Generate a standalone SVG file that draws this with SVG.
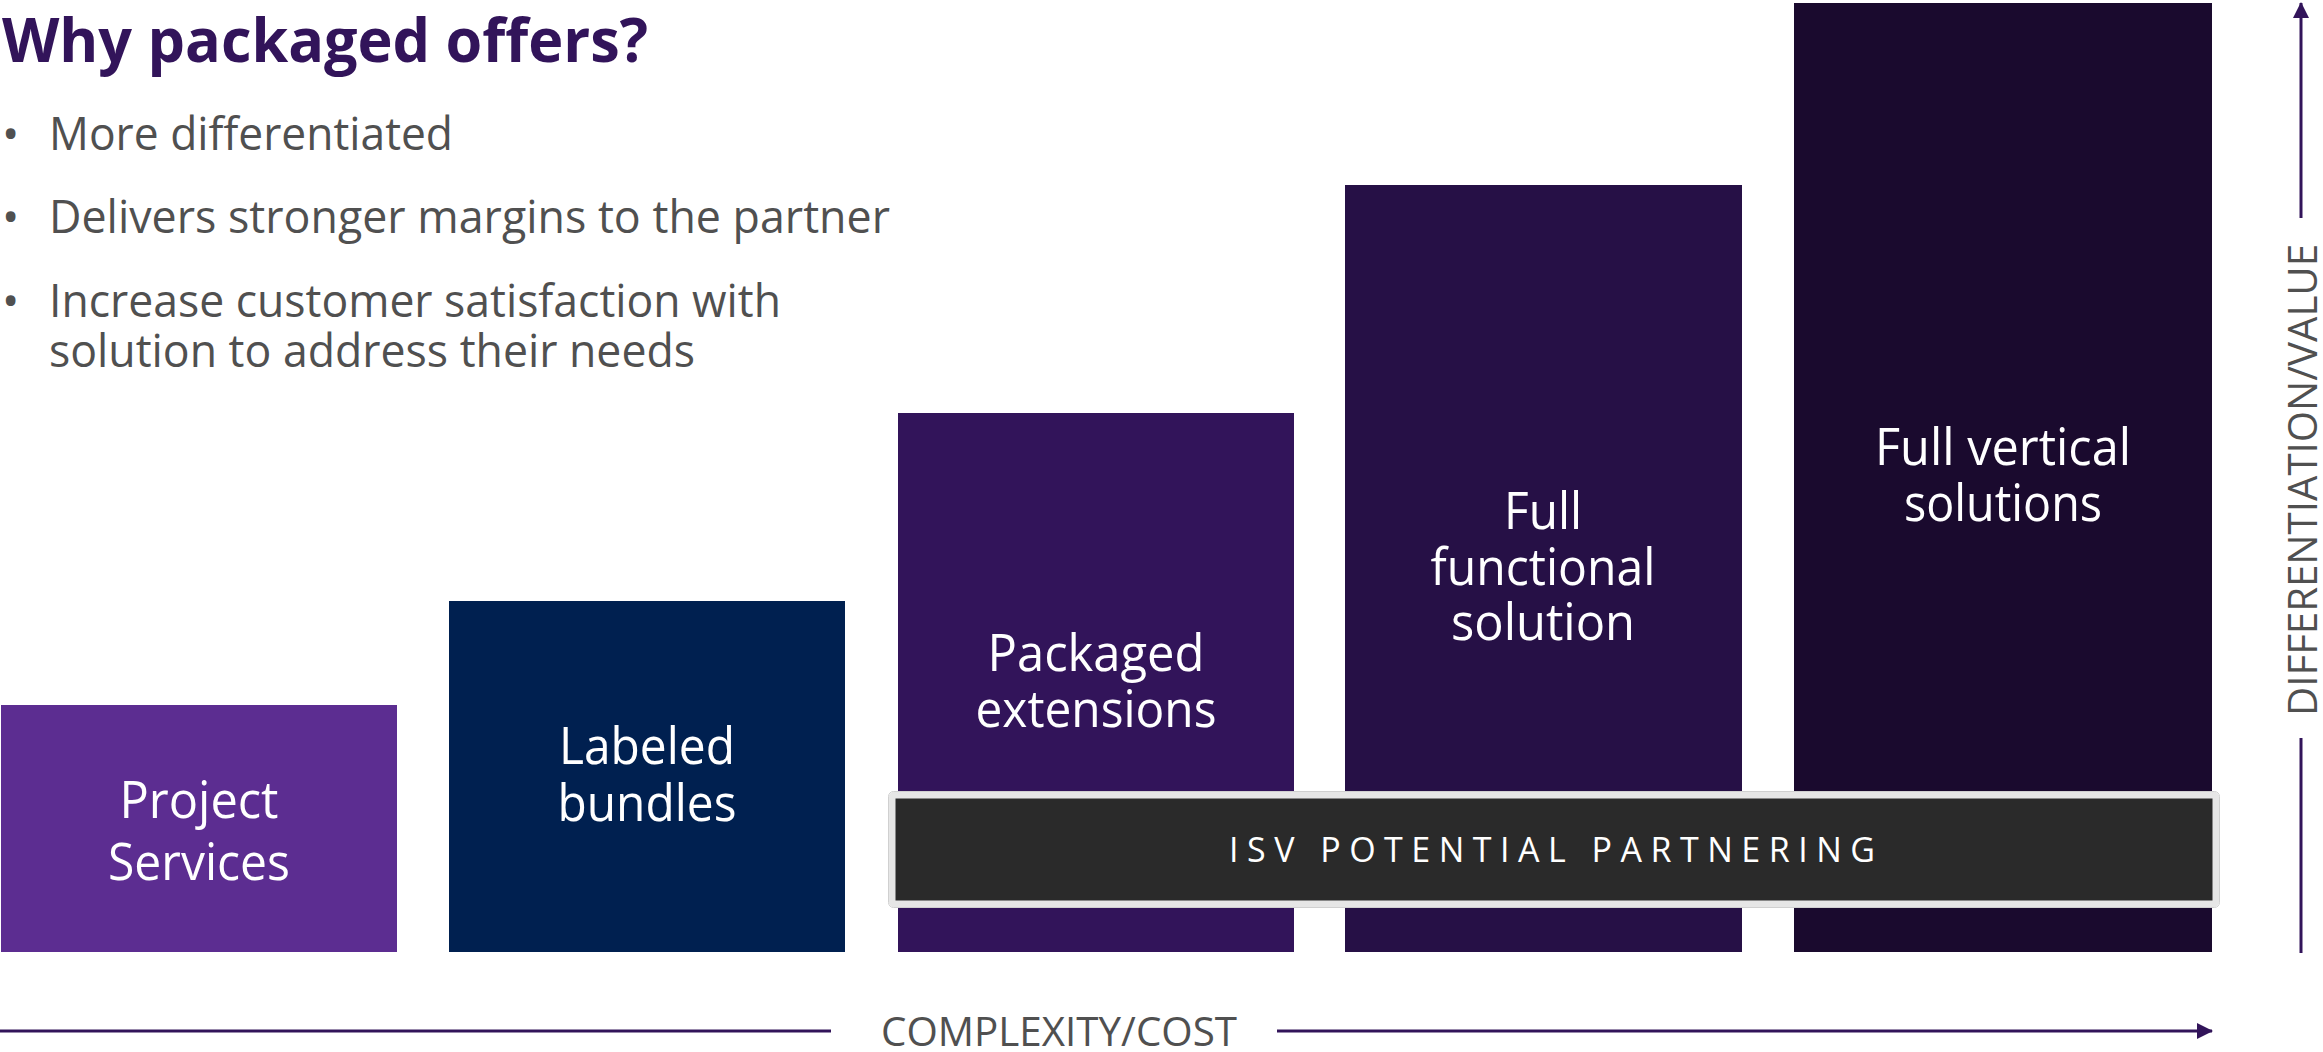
<svg xmlns="http://www.w3.org/2000/svg" width="2323" height="1052" viewBox="0 0 2323 1052">
<style>
.title{font-family:"Open Sans","Noto Sans",sans-serif;font-weight:700;font-size:60px;fill:#32145A}
.bul{font-family:"Open Sans","Noto Sans",sans-serif;font-size:46px;fill:#505050}
.lbl{font-family:"Open Sans","Noto Sans",sans-serif;font-size:52px;fill:#FFFFFF;text-anchor:middle}
.isv{font-family:"Open Sans","Noto Sans",sans-serif;font-size:34px;fill:#FFFFFF}
.axt{font-family:"Open Sans","Noto Sans",sans-serif;font-size:40px;fill:#505050}
.ax{stroke:#32145A;stroke-width:3;fill:none}
</style>
<defs>
<marker id="arr" viewBox="0 0 16 16" refX="15" refY="8" markerWidth="16" markerHeight="16" markerUnits="userSpaceOnUse" orient="auto">
<path d="M0,0 L16,8 L0,16 Z" fill="#32145A"/>
</marker>
</defs>
<rect width="2323" height="1052" fill="#FFFFFF"/>
<g id="heading">
<text class="title" x="2" y="62" textLength="646" lengthAdjust="spacingAndGlyphs">Why packaged offers?</text>
<text class="bul" x="2" y="150">•</text>
<text class="bul" x="49" y="150" textLength="404" lengthAdjust="spacingAndGlyphs">More differentiated</text>
<text class="bul" x="2" y="233">•</text>
<text class="bul" x="49" y="233" textLength="841" lengthAdjust="spacingAndGlyphs">Delivers stronger margins to the partner</text>
<text class="bul" x="2" y="317">•</text>
<text class="bul" x="49" y="317" textLength="732" lengthAdjust="spacingAndGlyphs">Increase customer satisfaction with</text>
<text class="bul" x="49" y="367" textLength="646" lengthAdjust="spacingAndGlyphs">solution to address their needs</text>
</g>
<g id="project-services">
<rect x="1" y="705" width="396" height="247" fill="#5C2D91"/>
<text class="lbl" x="199" y="818" textLength="159" lengthAdjust="spacingAndGlyphs">Project</text>
<text class="lbl" x="199" y="880" textLength="182" lengthAdjust="spacingAndGlyphs">Services</text>
</g>
<g id="labeled-bundles">
<rect x="449" y="601" width="396" height="351" fill="#002050"/>
<text class="lbl" x="647" y="764" textLength="176" lengthAdjust="spacingAndGlyphs">Labeled</text>
<text class="lbl" x="647" y="821" textLength="179" lengthAdjust="spacingAndGlyphs">bundles</text>
</g>
<g id="packaged-extensions">
<rect x="898" y="413" width="396" height="539" fill="#32145A"/>
<text class="lbl" x="1096" y="671" textLength="217" lengthAdjust="spacingAndGlyphs">Packaged</text>
<text class="lbl" x="1096" y="727" textLength="241" lengthAdjust="spacingAndGlyphs">extensions</text>
</g>
<g id="full-functional-solution">
<rect x="1345" y="185" width="397" height="767" fill="#261046"/>
<text class="lbl" x="1543" y="529" textLength="78" lengthAdjust="spacingAndGlyphs">Full</text>
<text class="lbl" x="1543" y="585" textLength="225" lengthAdjust="spacingAndGlyphs">functional</text>
<text class="lbl" x="1543" y="640" textLength="184" lengthAdjust="spacingAndGlyphs">solution</text>
</g>
<g id="full-vertical-solutions">
<rect x="1794" y="3" width="418" height="949" fill="#1A0A2E"/>
<text class="lbl" x="2003" y="465" textLength="256" lengthAdjust="spacingAndGlyphs">Full vertical</text>
<text class="lbl" x="2003" y="521" textLength="198" lengthAdjust="spacingAndGlyphs">solutions</text>
</g>
<g id="isv-potential-partnering">
<rect x="892" y="795" width="1324" height="109" rx="3" fill="#2A2A2A" stroke="#E6E6E6" stroke-width="7"/>
<rect x="888.5" y="791.5" width="1331" height="116" rx="5" fill="none" stroke="#D0D0D0" stroke-width="1"/>
<text class="isv" x="1229" y="862" textLength="646" lengthAdjust="spacing">ISV POTENTIAL PARTNERING</text>
</g>
<g id="connectors">
<line class="ax" x1="0" y1="1031" x2="831" y2="1031"/>
<line class="ax" x1="1277" y1="1031" x2="2212" y2="1031" marker-end="url(#arr)"/>
<line class="ax" x1="2301" y1="953" x2="2301" y2="738"/>
<line class="ax" x1="2301" y1="218" x2="2301" y2="3" marker-end="url(#arr)"/>
</g>
<g id="axis-labels">
<text class="axt" x="881" y="1046" textLength="356" lengthAdjust="spacingAndGlyphs">COMPLEXITY/COST</text>
<text class="axt" transform="translate(2317,716) rotate(-90)" x="0" y="0" textLength="472" lengthAdjust="spacingAndGlyphs">DIFFERENTIATION/VALUE</text>
</g>
</svg>
